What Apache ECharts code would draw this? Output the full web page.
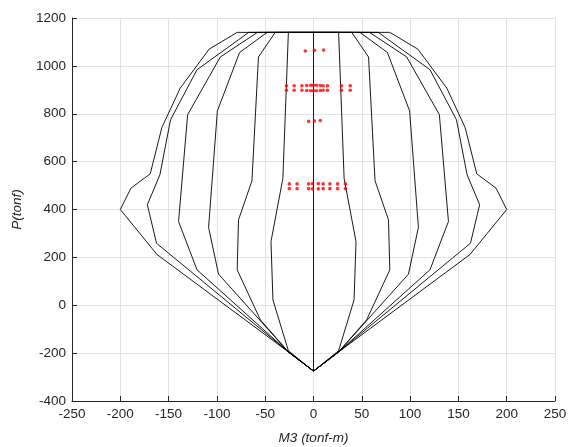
<!DOCTYPE html>
<html>
<head>
<meta charset="utf-8">
<script src="https://cdn.jsdelivr.net/npm/echarts@6/dist/echarts.min.js"></script>
<style>
html,body{margin:0;padding:0;background:#fff;}
#chart{width:570px;height:447px;}
</style>
</head>
<body>
<div id="chart"></div>
<script>
// Tick settings
const xTicks = {min: -250, max: 250, step: 50};
const yTicks = {min: -400, max: 1200, step: 200};

// Interaction curves (closed loops: left half top->bottom, right half bottom->top)
const c1M = [-79, -108, -138, -157, -169, -189, -200, -162, -26, 0, 26, 162, 200, 189, 169, 157, 138, 108, 79, -79];
const c1P = [1140, 1070, 907, 742, 549, 489, 400, 212, -195, -275, -195, 212, 400, 489, 549, 742, 907, 1070, 1140, 1140];

const c2M = [-67, -120.6, -148, -159, -172, -162.5, -26, 0, 26, 162.5, 172, 159, 148, 120.6, 67, -67];
const c2P = [1140, 984, 775, 545, 420, 259, -195, -275, -195, 259, 420, 545, 775, 984, 1140, 1140];

const c3M = [-58, -96.5, -130.3, -139.7, -120.6, -26, 0, 26, 120.6, 139.7, 130.3, 96.5, 58, -58];
const c3P = [1140, 1037, 796, 350, 148, -195, -275, -195, 148, 350, 796, 1037, 1140, 1140];

const c4M = [-48, -76.5, -99.5, -108.6, -98.3, -26, 0, 26, 98.3, 108.6, 99.5, 76.5, 48, -48];
const c4P = [1140, 1056, 812, 325, 130, -195, -275, -195, 130, 325, 812, 1056, 1140, 1140];

const c5M = [-39.6, -57, -63.7, -77.6, -79, -55, -26, 0, 26, 55, 79, 77.6, 63.7, 57, 39.6, -39.6];
const c5P = [1140, 1037, 520, 357, 148, -61, -195, -275, -195, -61, 148, 357, 520, 1037, 1140, 1140];

const c6M = [-26, -31.7, -44, -42, -26, 0, 26, 42, 44, 31.7, 26, -26];
const c6P = [1140, 530, 266, 22, -190, -275, -190, 22, 266, 530, 1140, 1140];

const c0M = [0, 0];
const c0P = [-275, 1140];

// Demand points (red)
const ptsM = [-8.5, 1, 10.5,
  -28, -20, -12, -7, -3, 0, 3, 7, 10, 14.5, 29, 38,
  -28, -20, -12, -7, -3, 0, 3, 7, 10, 14.5, 29, 38,
  -5, 1, 7,
  -25, -17, -5, -1, 5, 10, 17, 25, 33,
  -25, -17, -5, -1, 5, 10, 17, 25, 33];
const ptsP = [1062, 1065, 1066,
  917, 917, 917, 918, 919, 919, 919, 918, 917, 917, 917, 917,
  898, 898, 898, 897, 896, 896, 896, 897, 898, 898, 898, 898,
  768, 770, 772,
  507, 507, 507, 508, 508, 507, 507, 507, 507,
  487, 487, 487, 486, 486, 487, 487, 487, 487];

function pairs(xs, ys) { return xs.map((x, i) => [x, ys[i]]); }

const curves = [[c1M, c1P], [c2M, c2P], [c3M, c3P], [c4M, c4P], [c5M, c5P], [c6M, c6P], [c0M, c0P]];

const font = '"Liberation Sans", Arial, Helvetica, sans-serif';
const series = curves.map(([m, p]) => ({
  type: 'line',
  data: pairs(m, p),
  symbol: 'none',
  lineStyle: {color: '#000', width: 0.9},
  silent: true,
  z: 2
}));
series.push({
  type: 'scatter',
  data: pairs(ptsM, ptsP),
  symbol: 'circle',
  symbolSize: 3.6,
  itemStyle: {color: '#ff0000'},
  z: 3
});

const plain = v => String(v);

const chart = echarts.init(document.getElementById('chart'), null, {renderer: 'canvas'});
chart.setOption({
  animation: false,
  backgroundColor: '#fff',
  grid: {left: 72, right: 15, top: 18, bottom: 46, containLabel: false, outerBoundsMode: 'none'},
  xAxis: {
    type: 'value', min: xTicks.min, max: xTicks.max, interval: xTicks.step,
    name: 'M3 (tonf-m)', nameLocation: 'middle', nameGap: 30,
    nameTextStyle: {fontFamily: font, fontSize: 13.5, fontStyle: 'italic', color: '#262626'},
    axisLine: {onZero: false, lineStyle: {color: '#262626', width: 1}},
    axisTick: {inside: true, length: 5, lineStyle: {color: '#262626'}},
    axisLabel: {fontFamily: font, fontSize: 13.5, color: '#262626', margin: 6, formatter: plain},
    splitLine: {show: true, lineStyle: {color: '#e3e3e3', width: 1}}
  },
  yAxis: {
    type: 'value', min: yTicks.min, max: yTicks.max, interval: yTicks.step,
    name: 'P(tonf)', nameLocation: 'middle', nameGap: 48,
    nameTextStyle: {fontFamily: font, fontSize: 13.5, fontStyle: 'italic', color: '#262626'},
    axisLine: {show: true, onZero: false, lineStyle: {color: '#262626', width: 1}},
    axisTick: {show: true, inside: true, length: 5, lineStyle: {color: '#262626'}},
    axisLabel: {fontFamily: font, fontSize: 13.5, color: '#262626', margin: 6, formatter: plain},
    splitLine: {show: true, lineStyle: {color: '#e3e3e3', width: 1}}
  },
  series: series
});
</script>
</body>
</html>
